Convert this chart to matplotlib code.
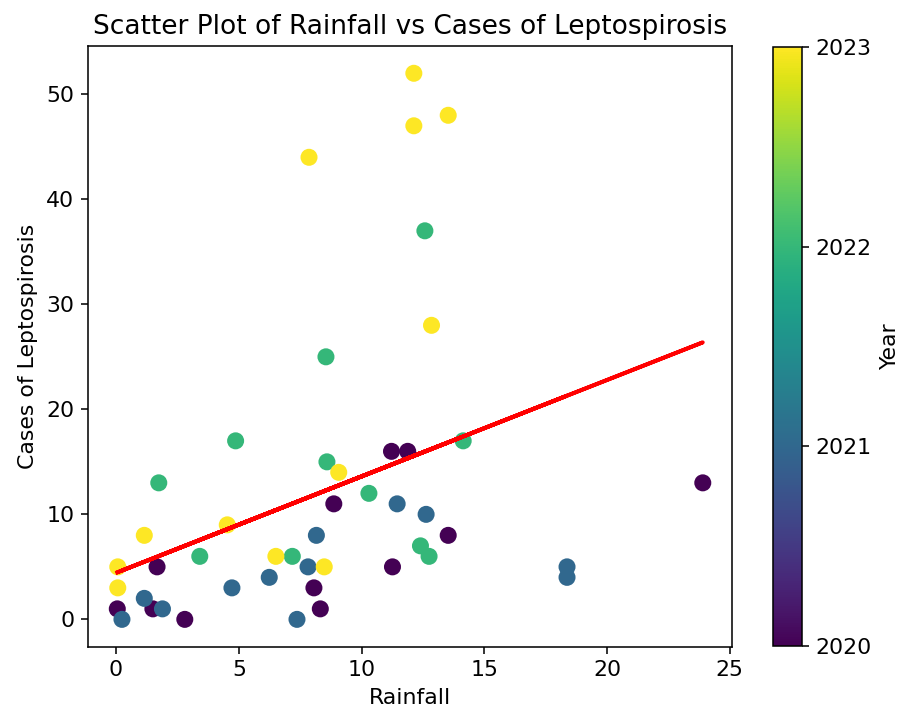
import numpy as np
import matplotlib
matplotlib.use("Agg")
import matplotlib.pyplot as plt

# values, grouped by year
rain_2020 = [0.05, 1.5, 1.67, 2.8, 8.06, 8.32, 8.87, 11.22, 11.88, 11.26, 13.53, 23.9]
cases_2020 = [1, 1, 5, 0, 3, 1, 11, 16, 16, 5, 8, 13]

rain_2021 = [0.24, 1.15, 1.89, 4.72, 6.24, 7.37, 7.82, 8.16, 11.45, 12.63, 18.37, 18.37]
cases_2021 = [0, 2, 1, 3, 4, 0, 5, 8, 11, 10, 5, 4]

rain_2022 = [12.58, 8.55, 4.87, 1.74, 8.59, 14.14, 10.3, 3.41, 7.18, 12.4, 12.75]
cases_2022 = [37, 25, 17, 13, 15, 17, 12, 6, 6, 7, 6]

rain_2023 = [12.13, 12.13, 13.53, 7.86, 12.85, 9.07, 8.48, 4.53, 6.51, 1.15, 0.07, 0.07]
cases_2023 = [52, 47, 48, 44, 28, 14, 5, 9, 6, 8, 5, 3]

years = [2020, 2021, 2022, 2023]

rainfall = np.array(rain_2020 + rain_2021 + rain_2022 + rain_2023)
cases = np.array(cases_2020 + cases_2021 + cases_2022 + cases_2023)
year = np.array([2020] * len(rain_2020) + [2021] * len(rain_2021)
                + [2022] * len(rain_2022) + [2023] * len(rain_2023))

plt.rcParams['font.size'] = 11.3

dpi = 140
fig = plt.figure(figsize=(899 / dpi, 714 / dpi), dpi=dpi)
ax = fig.add_axes([0.0979, 0.0943, 0.7164, 0.8413])
cax = fig.add_axes([0.860, 0.0952, 0.0323, 0.839])

sc = ax.scatter(rainfall, cases, c=year, cmap="viridis", s=60)

# linear fit
m, b = np.polyfit(rainfall, cases, 1)
ax.plot(rainfall, m * rainfall + b, color="red", linewidth=2)

ax.set_title("Scatter Plot of Rainfall vs Cases of Leptospirosis")
ax.set_xlabel("Rainfall")
ax.set_ylabel("Cases of Leptospirosis")

cb = fig.colorbar(sc, cax=cax, ticks=years)
cb.set_label("Year")
cb.ax.set_yticklabels([str(y) for y in years])

fig.savefig("out.png", dpi=dpi)
